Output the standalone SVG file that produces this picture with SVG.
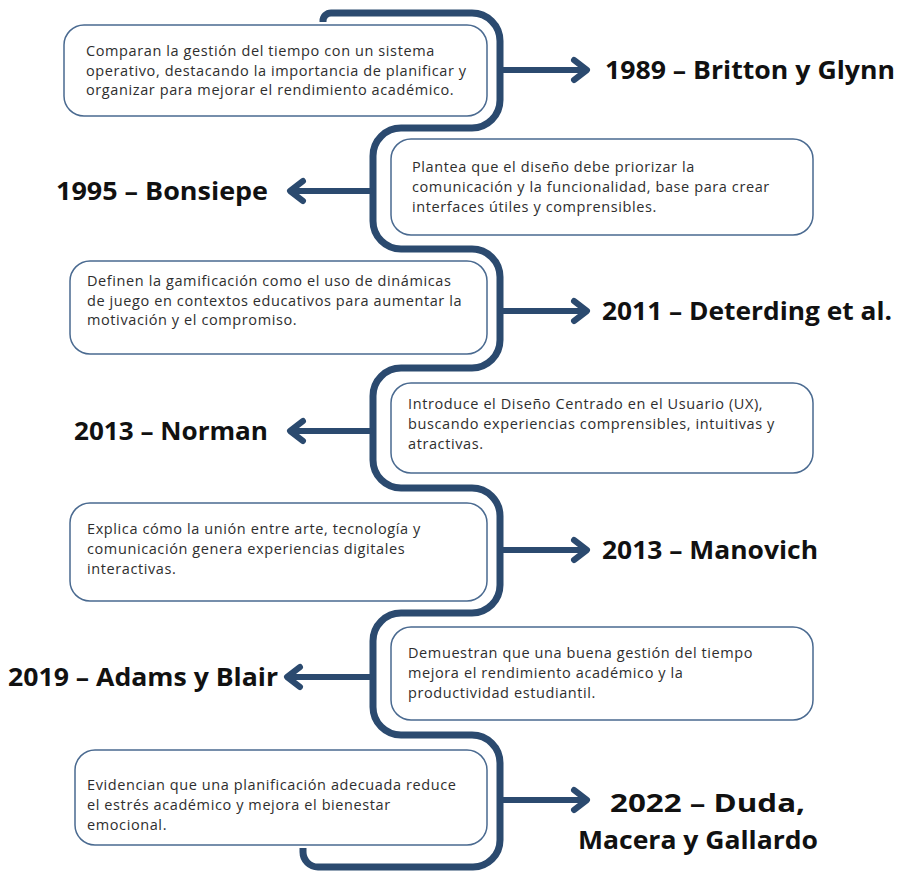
<svg xmlns="http://www.w3.org/2000/svg" width="906" height="873" viewBox="0 0 906 873">
  <style>
    .box { fill: #ffffff; stroke: #4a6a90; stroke-width: 1.5; }
    .body { font-family: "Open Sans", "Noto Sans", "DejaVu Sans", sans-serif; font-size: 14.5px; letter-spacing: 0.6px; fill: #2e2e2e; }
    .year { font-family: "Open Sans", "Noto Sans", "DejaVu Sans", sans-serif; font-size: 25px; font-weight: 700; fill: #111111; }
    .band { fill: none; stroke: #2b4a6f; stroke-width: 7; stroke-linecap: butt; stroke-linejoin: round; }
    .arrow { fill: none; stroke: #2b4a6f; stroke-width: 6; stroke-linecap: round; stroke-linejoin: round; }
  </style>

  <rect width="906" height="873" fill="#ffffff"/>

  <!-- winding timeline band and the pointers to each author -->
  <g id="connectors">
    <path class="band" d="M 323 22 V 21 A 8 8 0 0 1 331 13 H 472 A 28 28 0 0 1 500 41 V 100 A 28 28 0 0 1 472 128 H 401 A 28 28 0 0 0 373 156 V 221 A 28 28 0 0 0 401 249 H 472 A 28 28 0 0 1 500 277 V 340 A 28 28 0 0 1 472 368 H 401 A 28 28 0 0 0 373 396 V 460 A 28 28 0 0 0 401 488 H 472 A 28 28 0 0 1 500 516 V 585 A 28 28 0 0 1 472 613 H 401 A 28 28 0 0 0 373 641 V 707 A 28 28 0 0 0 401 735 H 472 A 28 28 0 0 1 500 763 V 840 A 27 27 0 0 1 473 867 H 318 A 15 15 0 0 1 303 852 V 848"/>
    <path class="arrow" d="M 503 70 H 586 M 574 60 L 587 70 L 574 80"/>
    <path class="arrow" d="M 370 191 H 291 M 303 181 L 290 191 L 303 201"/>
    <path class="arrow" d="M 503 311 H 586 M 574 301 L 587 311 L 574 321"/>
    <path class="arrow" d="M 370 431 H 291 M 303 421 L 290 431 L 303 441"/>
    <path class="arrow" d="M 503 550 H 586 M 574 540 L 587 550 L 574 560"/>
    <path class="arrow" d="M 370 677 H 288 M 300 667 L 287 677 L 300 687"/>
    <path class="arrow" d="M 503 800 H 586 M 574 790 L 587 800 L 574 810"/>
  </g>

  <g id="britton-glynn-1989">
    <rect class="box" x="64" y="25" width="423" height="91" rx="20"/>
    <text class="body"><tspan x="86" y="56">Comparan la gestión del tiempo con un sistema</tspan><tspan x="86" y="76">operativo, destacando la importancia de planificar y</tspan><tspan x="86" y="95">organizar para mejorar el rendimiento académico.</tspan></text>
    <text class="year" x="605" y="79" textLength="290" lengthAdjust="spacingAndGlyphs">1989 – Britton y Glynn</text>
  </g>

  <g id="bonsiepe-1995">
    <rect class="box" x="391" y="139" width="422" height="96" rx="20"/>
    <text class="body"><tspan x="412" y="172">Plantea que el diseño debe priorizar la</tspan><tspan x="412" y="192">comunicación y la funcionalidad, base para crear</tspan><tspan x="412" y="212">interfaces útiles y comprensibles.</tspan></text>
    <text class="year" x="56" y="200" textLength="212" lengthAdjust="spacingAndGlyphs">1995 – Bonsiepe</text>
  </g>

  <g id="deterding-2011">
    <rect class="box" x="70" y="261" width="417" height="93" rx="20"/>
    <text class="body"><tspan x="87" y="286">Definen la gamificación como el uso de dinámicas</tspan><tspan x="87" y="306">de juego en contextos educativos para aumentar la</tspan><tspan x="87" y="325">motivación y el compromiso.</tspan></text>
    <text class="year" x="602" y="320" textLength="290" lengthAdjust="spacingAndGlyphs">2011 – Deterding et al.</text>
  </g>

  <g id="norman-2013">
    <rect class="box" x="391" y="383" width="422" height="90" rx="20"/>
    <text class="body"><tspan x="408" y="409">Introduce el Diseño Centrado en el Usuario (UX),</tspan><tspan x="408" y="429">buscando experiencias comprensibles, intuitivas y</tspan><tspan x="408" y="449">atractivas.</tspan></text>
    <text class="year" x="74" y="440" textLength="194" lengthAdjust="spacingAndGlyphs">2013 – Norman</text>
  </g>

  <g id="manovich-2013">
    <rect class="box" x="70" y="503" width="417" height="98" rx="20"/>
    <text class="body"><tspan x="87" y="534">Explica cómo la unión entre arte, tecnología y</tspan><tspan x="87" y="554">comunicación genera experiencias digitales</tspan><tspan x="87" y="574">interactivas.</tspan></text>
    <text class="year" x="602" y="559" textLength="216" lengthAdjust="spacingAndGlyphs">2013 – Manovich</text>
  </g>

  <g id="adams-blair-2019">
    <rect class="box" x="391" y="627" width="422" height="93" rx="20"/>
    <text class="body"><tspan x="408" y="658">Demuestran que una buena gestión del tiempo</tspan><tspan x="408" y="678">mejora el rendimiento académico y la</tspan><tspan x="408" y="698">productividad estudiantil.</tspan></text>
    <text class="year" x="8" y="686" textLength="270" lengthAdjust="spacingAndGlyphs">2019 – Adams y Blair</text>
  </g>

  <g id="duda-macera-gallardo-2022">
    <rect class="box" x="75" y="750" width="412" height="95" rx="20"/>
    <text class="body"><tspan x="87" y="790">Evidencian que una planificación adecuada reduce</tspan><tspan x="87" y="810">el estrés académico y mejora el bienestar</tspan><tspan x="87" y="830">emocional.</tspan></text>
    <text class="year" x="610" y="812" textLength="195" lengthAdjust="spacingAndGlyphs">2022 – Duda,</text>
    <text class="year" x="578" y="849" textLength="240" lengthAdjust="spacingAndGlyphs">Macera y Gallardo</text>
  </g>
</svg>
